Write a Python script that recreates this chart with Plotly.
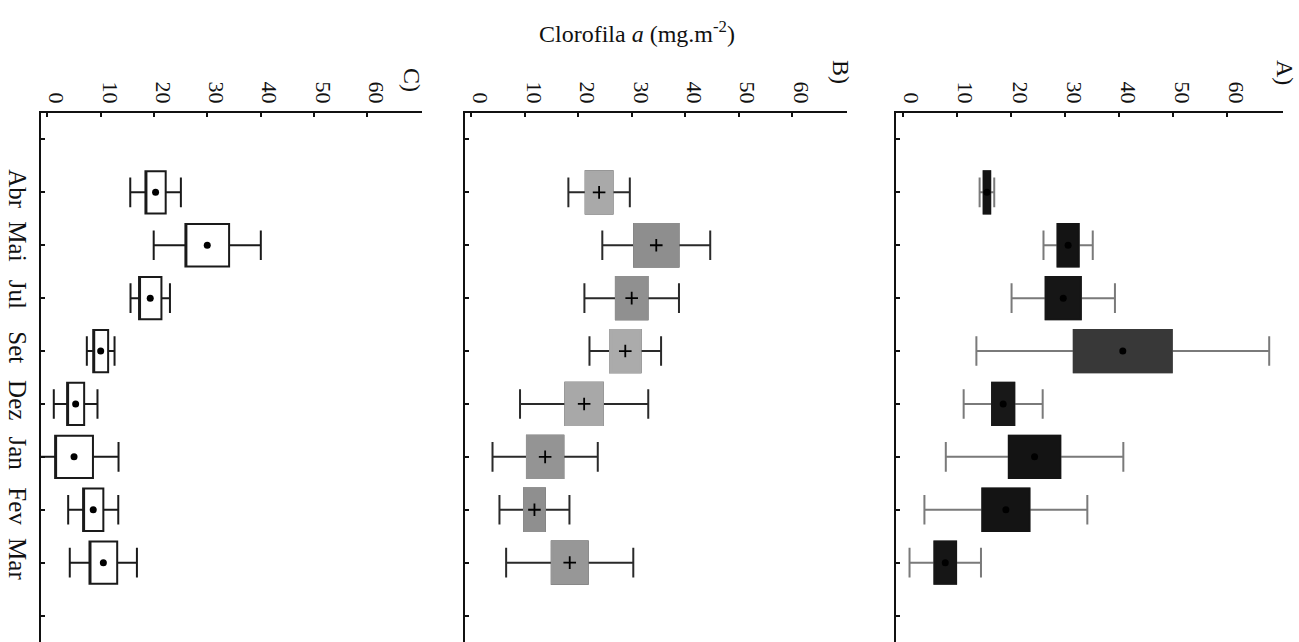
import plotly.graph_objects as go

# ---------------- data ----------------
months = ["Abr", "Mai", "Jul", "Set", "Dez", "Jan", "Fev", "Mar"]
value_ticks = [0, 10, 20, 30, 40, 50, 60]

# Panel A
A_mean = [15.6, 30.6, 29.7, 40.7, 18.6, 24.4, 19.1, 7.9]
A_se = [0.6, 1.95, 3.25, 9.05, 2.05, 4.75, 4.35, 2.0]
A_sd = [1.35, 4.55, 9.55, 27.05, 7.3, 16.4, 15.05, 6.6]

# Panel B
B_mean = [23.9, 34.6, 30.0, 28.8, 21.1, 13.8, 11.8, 18.4]
B_se = [2.5, 4.15, 2.95, 2.85, 3.5, 3.4, 1.95, 3.35]
B_sd = [5.75, 10.1, 8.85, 6.7, 12.0, 9.85, 6.55, 11.9]

# Panel C
C_mean = [20.3, 30.0, 19.3, 10.0, 5.3, 5.0, 8.6, 10.5]
C_se = [1.9, 4.1, 2.1, 1.4, 1.6, 3.55, 1.9, 2.6]
C_sd = [4.75, 10.05, 3.7, 2.6, 4.1, 8.35, 4.7, 6.3]

# ---------------- styles ----------------
A_fill = ["#141414", "#141414", "#161616", "#383838", "#181818", "#141414", "#141414", "#161616"]
B_fill = ["#a9a9a9", "#8e8e8e", "#909090", "#ababab", "#a8a8a8", "#949494", "#8f8f8f", "#979797"]
C_fill = ["#ffffff"] * len(months)

FONT = "Liberation Serif"
H = 642
W = 1299
top_px = 113

panels = [
    ("C)", C_mean, C_se, C_sd, C_fill, "#1a1a1a", "#1a1a1a", "circle", (41, 422), ""),
    ("B)", B_mean, B_se, B_sd, B_fill, "#2a2a2a", None, "cross-thin", (465, 847), "2"),
    ("A)", A_mean, A_se, A_sd, A_fill, "#7a7a7a", None, "circle", (896, 1283), "3"),
]

fig = go.Figure()

for label, mean, se, sd, fills, wcol, ocol, sym, (x0, x1), sfx in panels:
    xa = "x" + sfx
    ya = "y" + sfx
    for i, m in enumerate(months):
        q1 = mean[i] - se[i]
        q3 = mean[i] + se[i]
        lo = mean[i] - sd[i]
        hi = mean[i] + sd[i]
        fig.add_trace(go.Box(
            y=[i], q1=[q1], median=[q1], q3=[q3],
            lowerfence=[lo], upperfence=[hi],
            orientation="h", width=0.8, whiskerwidth=0.7,
            line=dict(color=wcol, width=2), fillcolor=fills[i],
            boxpoints=False, hoverinfo="skip", showlegend=False,
            xaxis=xa, yaxis=ya,
        ))
        if ocol is None:
            fig.add_trace(go.Box(
                y=[i], q1=[q1], median=[q1], q3=[q3],
                lowerfence=[q1], upperfence=[q3],
                orientation="h", width=0.8, whiskerwidth=0,
                line=dict(color=fills[i], width=2), fillcolor=fills[i],
                boxpoints=False, hoverinfo="skip", showlegend=False,
                xaxis=xa, yaxis=ya,
            ))
    if sym == "cross-thin":
        mk = dict(symbol=sym, size=9, line=dict(color="#000", width=1.8), color="#000")
    else:
        mk = dict(symbol=sym, size=7, color="#000")
    fig.add_trace(go.Scatter(
        x=mean, y=list(range(len(months))), mode="markers", marker=mk,
        hoverinfo="skip", showlegend=False, xaxis=xa, yaxis=ya,
    ))

    xkey = "xaxis" + sfx
    ykey = "yaxis" + sfx
    fig.update_layout(**{
        xkey: dict(
            domain=[x0 / W, x1 / W], range=[-1.2, 70.3], side="top",
            anchor=ya, showline=True, linecolor="#111", linewidth=1.5,
            ticks="inside", ticklen=4, tickcolor="#111", tickwidth=1.5,
            tickvals=value_ticks, tickangle=90, automargin=False,
            ticklabelshift=9,
            tickfont=dict(family=FONT, size=22, color="#111"),
            showgrid=False, zeroline=False,
        ),
        ykey: dict(
            domain=[0, 1 - top_px / H], range=[len(months) + 0.5, -1.5],
            anchor=xa, showline=True, linecolor="#111", linewidth=1.5,
            ticks="inside", ticklen=4, tickcolor="#111", tickwidth=1.5,
            tickvals=list(range(-1, len(months) + 1)),
            ticktext=[""] + months + [""], automargin=False,
            showticklabels=(sfx == ""), tickangle=90,
            tickfont=dict(family=FONT, size=25, color="#111"),
            showgrid=False, zeroline=False,
        ),
    })

ann_font = dict(family=FONT, size=24, color="#111")
annotations = [
    dict(text="Clorofila <i>a</i> (mg.m<sup>-2</sup>)", x=637 / W, y=1 - 32 / H,
         xref="paper", yref="paper", showarrow=False, xanchor="center", yanchor="middle",
         font=ann_font),
    dict(text="C)", x=412 / W, y=1 - 80 / H, xref="paper", yref="paper",
         showarrow=False, textangle=90, xanchor="center", yanchor="middle", font=ann_font),
    dict(text="B)", x=841 / W, y=1 - 72 / H, xref="paper", yref="paper",
         showarrow=False, textangle=90, xanchor="center", yanchor="middle", font=ann_font),
    dict(text="A)", x=1285 / W, y=1 - 72 / H, xref="paper", yref="paper",
         showarrow=False, textangle=90, xanchor="center", yanchor="middle", font=ann_font),
]

fig.update_layout(
    width=W, height=H,
    margin=dict(l=0, r=0, t=0, b=0, autoexpand=False),
    paper_bgcolor="white", plot_bgcolor="white",
    boxmode="overlay", showlegend=False,
    annotations=annotations,
)

fig.write_html("out.html", config={"displayModeBar": False},
               post_script="document.body.style.margin='0';")
